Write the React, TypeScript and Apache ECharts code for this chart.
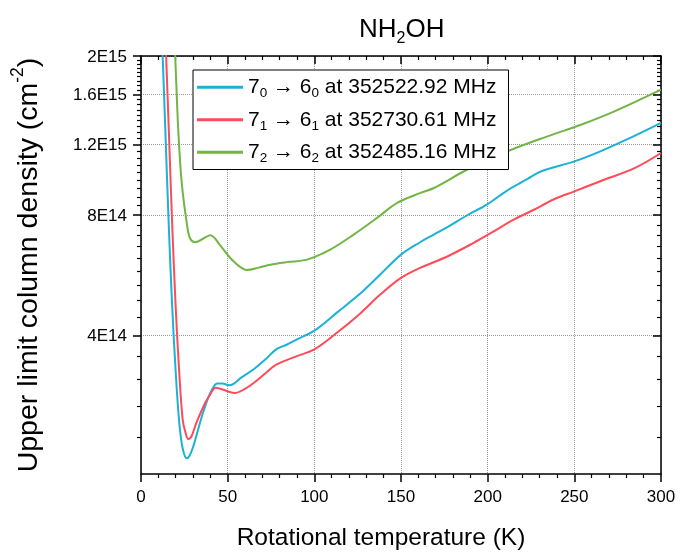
import React, { useEffect, useRef } from "react";
import * as echarts from "echarts";

// ---- data ----
const tBlue = [12, 14, 16, 18, 20, 22, 24, 26.4, 28, 30, 33, 36, 40, 44, 47, 51, 58, 65, 72, 78, 84, 90, 100, 113, 127, 138, 150, 161, 169, 177, 188, 200, 211, 223, 231, 250, 265, 285, 300];
const nBlue = [2.3e15, 1.32e15, 7.57e14, 4.72e14, 3.25e14, 2.44e14, 2.09e14, 1.97e14, 2.0e14, 2.1e14, 2.33e14, 2.58e14, 2.87e14, 3.03e14, 3.03e14, 3.0e14, 3.14e14, 3.29e14, 3.49e14, 3.69e14, 3.79e14, 3.91e14, 4.11e14, 4.56e14, 5.11e14, 5.68e14, 6.37e14, 6.84e14, 7.15e14, 7.47e14, 7.98e14, 8.52e14, 9.2e14, 9.85e14, 1.03e15, 1.09e15, 1.155e15, 1.264e15, 1.36e15];

const tRed = [14, 16, 18, 20, 22, 24, 25.5, 27.3, 29, 32, 37, 40, 43, 47, 54, 60, 65, 72, 78, 90, 100, 113, 127, 138, 150, 161, 177, 192, 202, 215, 227, 238, 250, 265, 285, 300];
const nRed = [2.3e15, 1.32e15, 7.57e14, 4.72e14, 3.26e14, 2.47e14, 2.3e14, 2.2e14, 2.23e14, 2.42e14, 2.71e14, 2.85e14, 2.96e14, 2.93e14, 2.87e14, 2.94e14, 3.04e14, 3.22e14, 3.38e14, 3.55e14, 3.69e14, 4.06e14, 4.56e14, 5.06e14, 5.57e14, 5.9e14, 6.31e14, 6.82e14, 7.22e14, 7.79e14, 8.26e14, 8.75e14, 9.17e14, 9.72e14, 1.05e15, 1.144e15];

const tGreen = [19, 20, 21.6, 23.5, 26.4, 28.3, 31.5, 35, 40, 45.7, 50.5, 54.3, 58, 61, 68, 74.6, 84.2, 95.8, 109.2, 122.7, 136.2, 147.8, 161.3, 169, 188.3, 211.4, 234.5, 253.8, 273.1, 300];
const nGreen = [2.45e15, 1.87e15, 1.28e15, 9.63e14, 7.65e14, 7.0e14, 6.84e14, 6.95e14, 7.12e14, 6.72e14, 6.32e14, 6.08e14, 5.9e14, 5.83e14, 5.91e14, 6.01e14, 6.1e14, 6.19e14, 6.56e14, 7.15e14, 7.87e14, 8.58e14, 9.09e14, 9.35e14, 1.04e15, 1.155e15, 1.259e15, 1.346e15, 1.454e15, 1.648e15];

const seriesNames = ["7₀ → 6₀ at 352522.92 MHz", "7₁ → 6₁ at 352730.61 MHz", "7₂ → 6₂ at 352485.16 MHz"];
const subDigits = ["0", "1", "2"];
const freqs = ["352522.92", "352730.61", "352485.16"];
const colors = ["#1cb1d6", "#ff4b58", "#72b545"];

const majorY = [4e14, 8e14, 1.2e15, 1.6e15, 2e15];
const majorYLabels = ["4E14", "8E14", "1.2E15", "1.6E15", "2E15"];
const Y_MIN = 1.8e14;
const Y_MAX = 2e15;
const MINOR_PER_MAJOR = 8;

const lg = (v: number) => Math.log10(v);

export default function App() {
  const ref = useRef<HTMLDivElement>(null);
  useEffect(() => {
    if (!ref.current) return;
    const chart = echarts.init(ref.current, undefined, { renderer: "svg" });
    const font = "'Liberation Sans', Arial, sans-serif";
    const majorLog = majorY.map(lg);
    const step = (majorY[1] - majorY[0]) / (MINOR_PER_MAJOR + 1);
    const minorLog: number[] = [];
    [0, ...majorY.slice(0, -1)].forEach((b) => {
      for (let k = 1; k <= MINOR_PER_MAJOR; k++) {
        const v = b + k * step;
        if (v > Y_MIN && v < Y_MAX) minorLog.push(lg(v));
      }
    });
    const yFmt = (val: number) => {
      const i = majorLog.findIndex((m) => Math.abs(m - val) < 1e-6);
      return i >= 0 ? majorYLabels[i] : "";
    };
    const axisLineStyle = { color: "#000", width: 1.5 };
    const yBase = { type: "value", min: lg(Y_MIN), max: lg(Y_MAX) };
    const mk = (ts: number[], ns: number[]) => ts.map((t, i) => [t, lg(ns[i])]);
    const datas = [mk(tBlue, nBlue), mk(tRed, nRed), mk(tGreen, nGreen)];

    chart.setOption({
      animation: false,
      textStyle: { fontFamily: font },
      title: {
        text: "{a|NH}{s|2}{a|OH}",
        left: 354,
        top: 10,
        textStyle: {
          fontWeight: "normal",
          rich: {
            a: { fontSize: 26, fontWeight: "normal", color: "#000", fontFamily: font, lineHeight: 30, verticalAlign: "top" },
            s: { fontSize: 16, fontWeight: "normal", color: "#000", fontFamily: font, lineHeight: 16, verticalAlign: "bottom" },
          },
        },
      },
      grid: { left: 141, right: 19, top: 56, bottom: 80, containLabel: false },
      legend: {
        orient: "vertical",
        left: 193,
        top: 70,
        backgroundColor: "#fff",
        borderColor: "#000",
        borderWidth: 1,
        borderRadius: 0,
        padding: [5, 12, 5, 4],
        itemGap: 8,
        itemWidth: 46,
        itemHeight: 3,
        icon: "rect",
        data: seriesNames,
        formatter: (name: string) => {
          const i = seriesNames.indexOf(name);
          return `{n|7}{s|${subDigits[i]}}{n| → 6}{s|${subDigits[i]}}{n| at ${freqs[i]} MHz}`;
        },
        textStyle: {
          rich: {
            n: { fontSize: 21, color: "#000", fontFamily: font, lineHeight: 24.5, verticalAlign: "top" },
            s: { fontSize: 13.5, color: "#000", fontFamily: font, lineHeight: 13, verticalAlign: "bottom" },
          },
        },
      },
      xAxis: [
        {
          type: "value",
          min: 0,
          max: 300,
          interval: 50,
          position: "bottom",
          axisLine: { show: true, lineStyle: axisLineStyle },
          axisTick: { show: true, length: 8, lineStyle: axisLineStyle },
          minorTick: { show: true, splitNumber: 5, length: 4, lineStyle: { color: "#000", width: 1.2 } },
          axisLabel: { fontSize: 17, color: "#000", margin: 14, fontFamily: font },
          splitLine: { show: true, lineStyle: { type: "dotted", color: "#999", width: 1 } },
          name: "Rotational temperature (K)",
          nameLocation: "middle",
          nameGap: 50,
          nameTextStyle: { fontSize: 24.5, color: "#000", fontFamily: font, padding: [0, 40, 0, 0] },
        },
        {
          type: "value",
          min: 0,
          max: 300,
          interval: 50,
          position: "top",
          axisLine: { show: true, lineStyle: axisLineStyle },
          axisTick: { show: true, inside: true, length: 8, lineStyle: axisLineStyle },
          minorTick: { show: true, splitNumber: 5, length: 4, lineStyle: { color: "#000", width: 1.2 } },
          axisLabel: { show: false },
          splitLine: { show: false },
        },
      ],
      yAxis: [
        {
          ...yBase,
          position: "left",
          axisLine: { show: true, lineStyle: axisLineStyle },
          axisTick: { show: true, customValues: majorLog, length: 8, lineStyle: axisLineStyle },
          axisLabel: { customValues: majorLog, formatter: yFmt, fontSize: 17, color: "#000", margin: 14, fontFamily: font },
          splitLine: { show: true, lineStyle: { type: "dotted", color: "#999", width: 1 } },
          name: "{a|Upper limit column density (cm}{b|-2}{a|)}",
          nameLocation: "middle",
          nameGap: 100,
          nameRotate: 90,
          nameTextStyle: {
            rich: {
              a: { fontSize: 28.5, color: "#000", fontFamily: font, lineHeight: 33, verticalAlign: "bottom" },
              b: { fontSize: 17.5, color: "#000", fontFamily: font, lineHeight: 33, verticalAlign: "top" },
            },
          },
        },
        {
          ...yBase,
          position: "left",
          axisLine: { show: false },
          axisTick: { show: true, customValues: minorLog, length: 4, lineStyle: { color: "#000", width: 1.2 } },
          axisLabel: { show: false },
          splitLine: { show: false },
        },
        {
          ...yBase,
          position: "right",
          axisLine: { show: true, lineStyle: axisLineStyle },
          axisTick: { show: true, inside: true, customValues: majorLog, length: 8, lineStyle: axisLineStyle },
          axisLabel: { show: false },
          splitLine: { show: false },
        },
        {
          ...yBase,
          position: "right",
          axisLine: { show: false },
          axisTick: { show: true, inside: true, customValues: minorLog, length: 4, lineStyle: { color: "#000", width: 1.2 } },
          axisLabel: { show: false },
          splitLine: { show: false },
        },
      ],
      series: datas.map((d, i) => ({
        name: seriesNames[i],
        type: "line",
        xAxisIndex: 0,
        yAxisIndex: 0,
        data: d,
        symbol: "none",
        showSymbol: false,
        smooth: 0.35,
        clip: true,
        lineStyle: { width: 2, color: colors[i] },
        itemStyle: { color: colors[i] },
        z: 3,
      })),
    });
    return () => chart.dispose();
  }, []);
  return <div ref={ref} style={{ position: "fixed", left: 0, top: 0, width: 680, height: 554 }} />;
}
